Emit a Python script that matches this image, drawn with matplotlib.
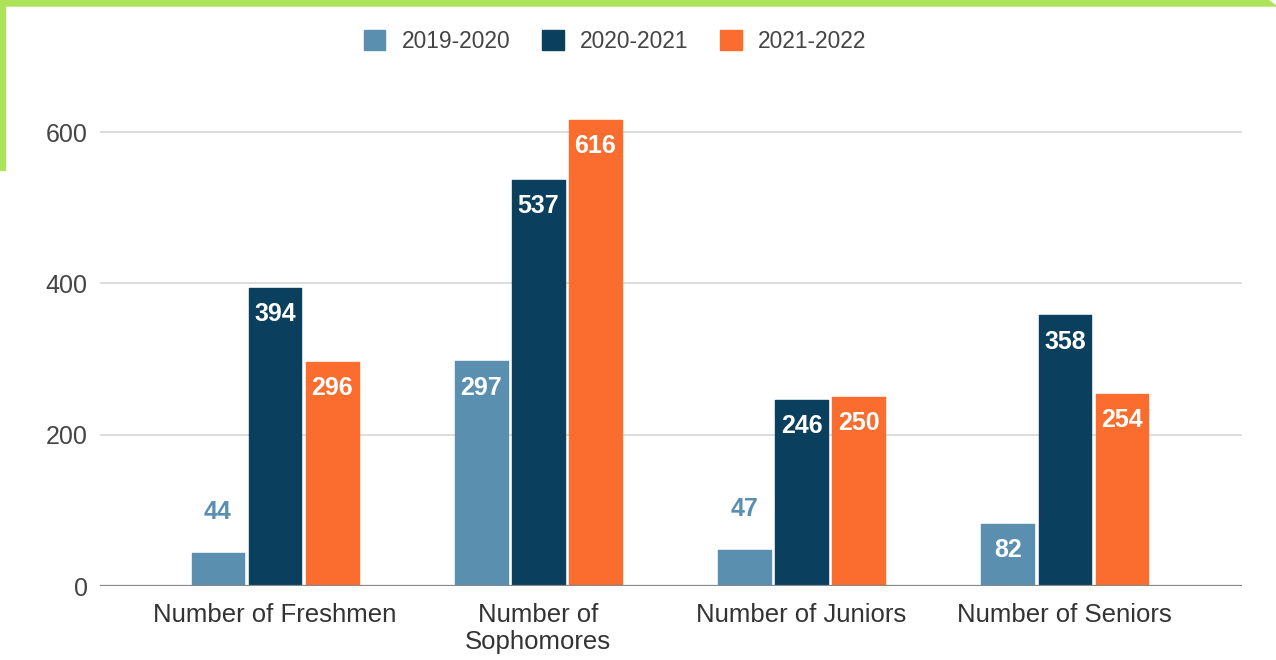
import matplotlib
matplotlib.use("Agg")
import matplotlib.pyplot as plt
import numpy as np
from matplotlib.patches import Rectangle, Polygon

categories = ["Number of Freshmen", "Number of\nSophomores", "Number of Juniors", "Number of Seniors"]
series_names = ["2019-2020", "2020-2021", "2021-2022"]
values_2019 = [44, 297, 47, 82]
values_2020 = [394, 537, 246, 358]
values_2021 = [296, 616, 250, 254]
series_values = [values_2019, values_2020, values_2021]
colors = ["#5A8FB0", "#0A3F5E", "#FA6D2E"]
yticks = [0, 200, 400, 600]

plt.rcParams["font.family"] = ["Liberation Sans", "DejaVu Sans"]

fig = plt.figure(figsize=(12.76, 6.6), dpi=100)
W, H = 1276, 660
ax = fig.add_axes([100 / W, 1 - 586 / H, (1242 - 100) / W, (586 - 100) / H])

x = np.arange(len(categories))
width = 0.2
step = 0.217
for i, (name, vals, col) in enumerate(zip(series_names, series_values, colors)):
    pos = x + (i - 1) * step
    ax.bar(pos, vals, width, color=col, label=name, edgecolor=col,
           linewidth=1.0, joinstyle="round", zorder=3)
    for xp, v in zip(pos, vals):
        if v < 60:
            ax.annotate(str(v), (xp, v), xytext=(0, 29.5), textcoords="offset points",
                        ha="center", va="center", fontsize=18, fontweight="bold",
                        color=col, zorder=4)
        else:
            ax.annotate(str(v), (xp, v), xytext=(0, -19), textcoords="offset points",
                        ha="center", va="center", fontsize=18, fontweight="bold",
                        color="white", zorder=4)

ax.set_xlim(-0.665, 3.673)
ax.set_ylim(0, 600 * 486 / 454)
ax.set_yticks(yticks)
ax.set_yticklabels([str(t) for t in yticks], fontsize=18, color="#444444")
ax.set_xticks(x)
ax.set_xticklabels(categories, fontsize=18.5, color="#333333", linespacing=1.2)
ax.tick_params(axis="y", length=0, pad=9)
ax.tick_params(axis="x", length=0, pad=12)
ax.grid(axis="y", color="#DDDDDD", linewidth=1.4, zorder=0)
ax.axhline(0, color="#888888", linewidth=1.6, zorder=5)
for s in ax.spines.values():
    s.set_visible(False)

fig.legend(loc="center", bbox_to_anchor=(615 / W, 1 - 41 / H), ncol=3,
           frameon=False, fontsize=16.4, handlelength=0.96, handleheight=0.96,
           handletextpad=0.7, columnspacing=1.4, labelcolor="#444444")

# green frame at top and upper left
fig.patches.append(Polygon([[0, 1], [1268 / W, 1], [1276 / W, 1 - 6 / H], [0, 1 - 6 / H]],
                           closed=True, transform=fig.transFigure, color="#ADE35A", zorder=10))
fig.patches.append(Rectangle((0, 1 - 170 / H), 5 / W, 170 / H, transform=fig.transFigure,
                             color="#ADE35A", zorder=10))

fig.savefig("out.png", dpi=100)
